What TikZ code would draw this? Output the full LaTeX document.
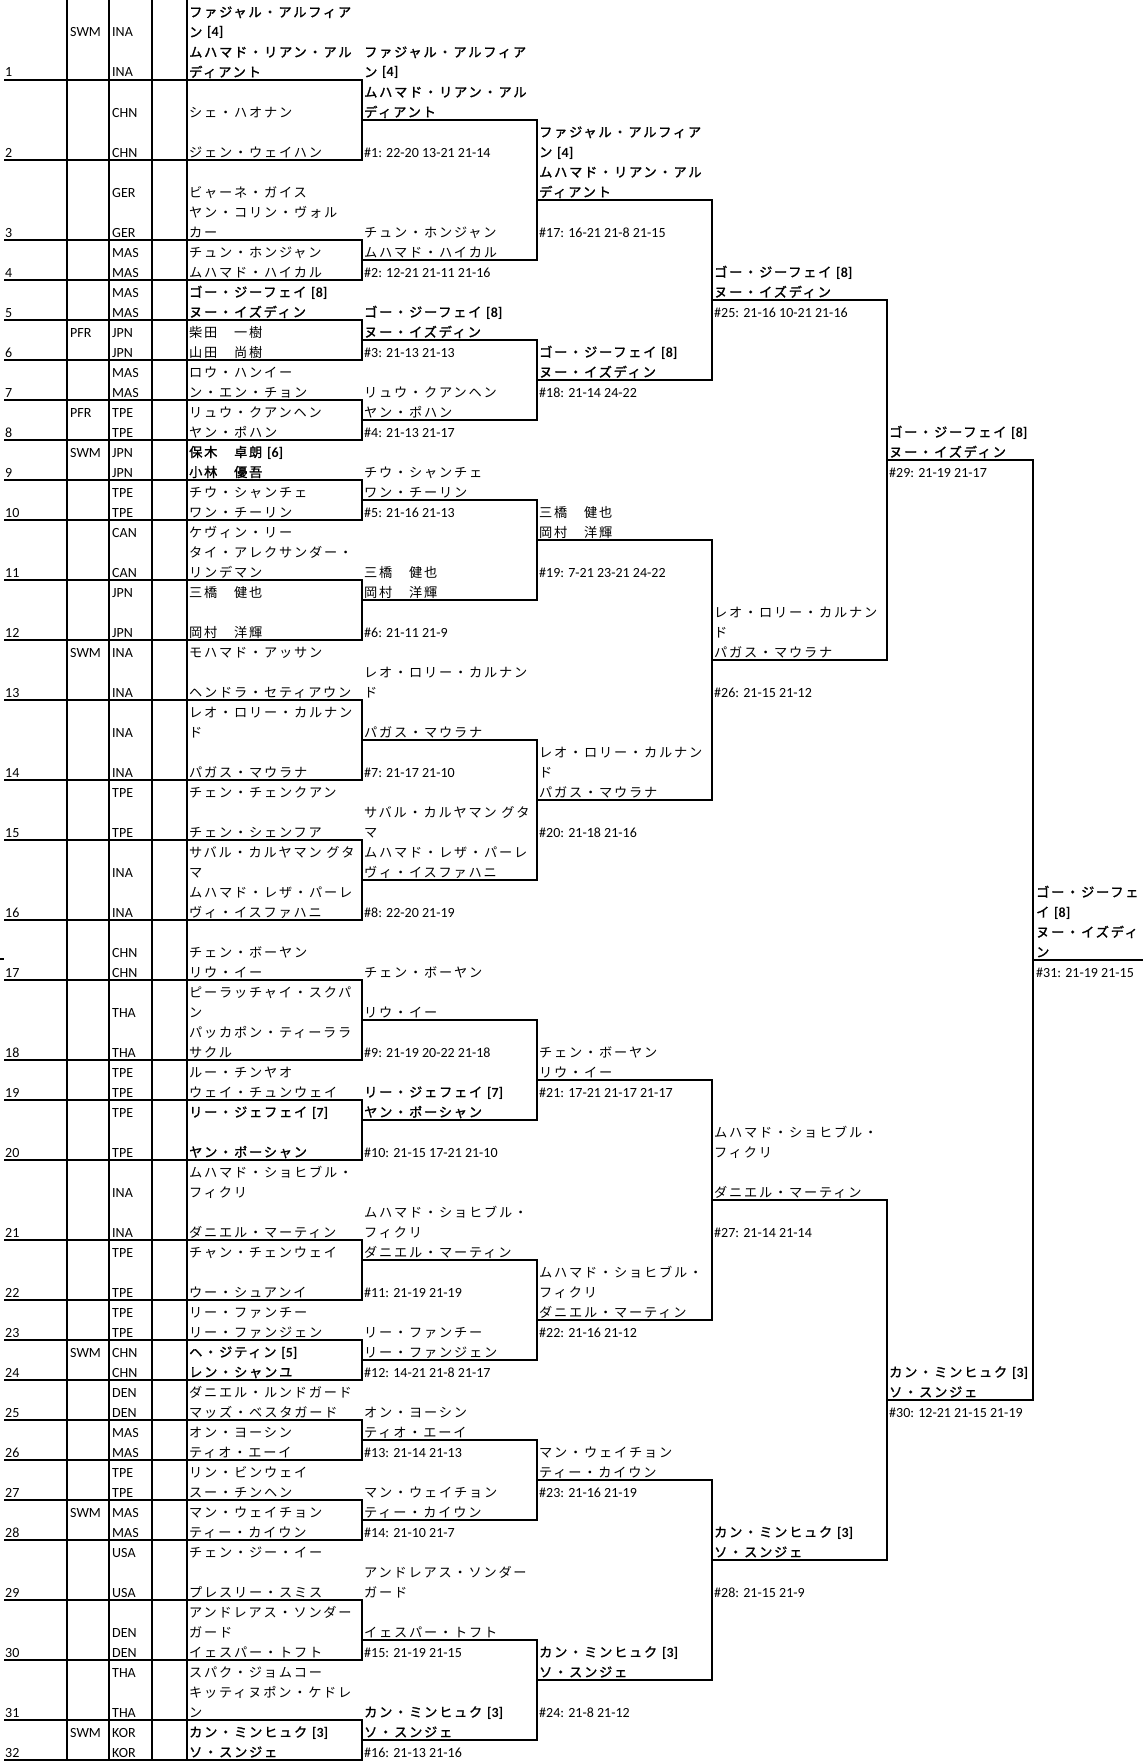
\documentclass[tikz,border=0pt]{standalone}
\usepackage{fontspec}
\setmainfont{Carlito}
\newfontfamily\jp{Noto Sans CJK JP}[LetterSpace=13.5,BoldFont={Noto Sans CJK JP},BoldFeatures={FakeBold=1.5}]
\newcounter{nd}
\newcommand\La[1]{{\rmfamily\fontsize{14}{16}\selectfont #1}}
\newcommand\TX[4][jt]{\stepcounter{nd}\node[#1] (n\arabic{nd}) at (#2,{-20*(#3)-17}) {#4};}
\begin{document}
\begin{tikzpicture}[x=1pt,y=1pt,
  jt/.style={anchor=base west,inner sep=0pt,font=\jp\fontsize{13.2}{15}\selectfont},
  jb/.style={anchor=base west,inner sep=0pt,font=\jp\bfseries\fontsize{13.2}{15}\selectfont},
  lt/.style={anchor=base west,inner sep=0pt,font=\rmfamily\fontsize{14}{16}\selectfont},
  ln/.style={line width=1.1pt,black}]
\fill[white] (0,0) rectangle (1143,-1761);
\useasboundingbox (0,0) rectangle (1143,-1761);
% column lines
\foreach \x in {67,109,152,187} {\draw[ln] (\x,0) -- (\x,-1761);}
\draw[ln] (0,-959) -- (4,-959);
% round 1 boxes
\foreach \a/\b in {80/160,240/280,320/360,400/440,480/520,580/640,700/780,840/920,980/1060,1100/1160,1240/1300,1340/1380,1420/1460,1500/1540,1600/1660,1720/1760}
  {\draw[ln] (4,-\a) -- (362,-\a) -- (362,-\b) -- (4,-\b);}
% round 2 boxes
\foreach \a/\b in {120/260,340/420,500/600,740/880,1020/1120,1260/1360,1440/1520,1640/1740}
  {\draw[ln] (362,-\a) -- (537,-\a) -- (537,-\b) -- (362,-\b);}
% round 3 boxes
\foreach \a/\b in {200/380,540/800,1080/1320,1480/1680}
  {\draw[ln] (537,-\a) -- (712,-\a) -- (712,-\b) -- (537,-\b);}
% round 4 boxes
\foreach \a/\b in {300/660,1200/1560}
  {\draw[ln] (712,-\a) -- (887,-\a) -- (887,-\b) -- (712,-\b);}
% semifinal box
\draw[ln] (887,-460) -- (1033,-460) -- (1033,-1400) -- (887,-1400);
\draw[ln] (1033,-960) -- (1143,-960);
% seed numbers
\foreach \r [count=\i] in {3,7,11,13,15,17,19,21,23,25,28,31,34,38,41,45,48,52,54,57,61,64,66,68,70,72,74,76,79,82,85,87}
  {\TX[lt]{5}{\r}{\i}}
% status
\foreach \r/\c in {1/SWM,22/SWM,32/SWM,67/SWM,75/SWM,86/SWM,16/PFR,20/PFR}
  {\TX[lt]{70}{\r}{\c}}
% countries
\foreach \r/\c in {1/INA,3/INA,5/CHN,7/CHN,9/GER,11/GER,12/MAS,13/MAS,14/MAS,15/MAS,16/JPN,17/JPN,18/MAS,19/MAS,20/TPE,21/TPE,22/JPN,23/JPN,24/TPE,25/TPE,26/CAN,28/CAN,29/JPN,31/JPN,32/INA,34/INA,36/INA,38/INA,39/TPE,41/TPE,43/INA,45/INA,47/CHN,48/CHN,50/THA,52/THA,53/TPE,54/TPE,55/TPE,57/TPE,59/INA,61/INA,62/TPE,64/TPE,65/TPE,66/TPE,67/CHN,68/CHN,69/DEN,70/DEN,71/MAS,72/MAS,73/TPE,74/TPE,75/MAS,76/MAS,77/USA,79/USA,81/DEN,82/DEN,83/THA,85/THA,86/KOR,87/KOR}
  {\TX[lt]{112}{\r}{\c}}
% round 1 names
\TX[jb]{189}{0}{ファジャル・アルフィア}
\TX[jb]{189}{1}{ン \La{[4]}}
\TX[jb]{189}{2}{ムハマド・リアン・アル}
\TX[jb]{189}{3}{ディアント}
\TX{189}{5}{シェ・ハオナン}
\TX{189}{7}{ジェン・ウェイハン}
\TX{189}{9}{ビャーネ・ガイス}
\TX{189}{10}{ヤン・コリン・ヴォル}
\TX{189}{11}{カー}
\TX{189}{12}{チュン・ホンジャン}
\TX{189}{13}{ムハマド・ハイカル}
\TX[jb]{189}{14}{ゴー・ジーフェイ \La{[8]}}
\TX[jb]{189}{15}{ヌー・イズディン}
\TX{189}{16}{柴田　一樹}
\TX{189}{17}{山田　尚樹}
\TX{189}{18}{ロウ・ハンイー}
\TX{189}{19}{ン・エン・チョン}
\TX{189}{20}{リュウ・クアンヘン}
\TX{189}{21}{ヤン・ポハン}
\TX[jb]{189}{22}{保木　卓朗 \La{[6]}}
\TX[jb]{189}{23}{小林　優吾}
\TX{189}{24}{チウ・シャンチェ}
\TX{189}{25}{ワン・チーリン}
\TX{189}{26}{ケヴィン・リー}
\TX{189}{27}{タイ・アレクサンダー・}
\TX{189}{28}{リンデマン}
\TX{189}{29}{三橋　健也}
\TX{189}{31}{岡村　洋輝}
\TX{189}{32}{モハマド・アッサン}
\TX{189}{34}{ヘンドラ・セティアウン}
\TX{189}{35}{レオ・ロリー・カルナン}
\TX{189}{36}{ド}
\TX{189}{38}{パガス・マウラナ}
\TX{189}{39}{チェン・チェンクアン}
\TX{189}{41}{チェン・シェンフア}
\TX{189}{42}{サバル・カルヤマン グタ}
\TX{189}{43}{マ}
\TX{189}{44}{ムハマド・レザ・パーレ}
\TX{189}{45}{ヴィ・イスファハニ}
\TX{189}{47}{チェン・ボーヤン}
\TX{189}{48}{リウ・イー}
\TX{189}{49}{ピーラッチャイ・スクパ}
\TX{189}{50}{ン}
\TX{189}{51}{パッカポン・ティーララ}
\TX{189}{52}{サクル}
\TX{189}{53}{ルー・チンヤオ}
\TX{189}{54}{ウェイ・チュンウェイ}
\TX[jb]{189}{55}{リー・ジェフェイ \La{[7]}}
\TX[jb]{189}{57}{ヤン・ポーシャン}
\TX{189}{58}{ムハマド・ショヒブル・}
\TX{189}{59}{フィクリ}
\TX{189}{61}{ダニエル・マーティン}
\TX{189}{62}{チャン・チェンウェイ}
\TX{189}{64}{ウー・シュアンイ}
\TX{189}{65}{リー・ファンチー}
\TX{189}{66}{リー・ファンジェン}
\TX[jb]{189}{67}{ヘ・ジティン \La{[5]}}
\TX[jb]{189}{68}{レン・シャンユ}
\TX{189}{69}{ダニエル・ルンドガード}
\TX{189}{70}{マッズ・ベスタガード}
\TX{189}{71}{オン・ヨーシン}
\TX{189}{72}{ティオ・エーイ}
\TX{189}{73}{リン・ビンウェイ}
\TX{189}{74}{スー・チンヘン}
\TX{189}{75}{マン・ウェイチョン}
\TX{189}{76}{ティー・カイウン}
\TX{189}{77}{チェン・ジー・イー}
\TX{189}{79}{プレスリー・スミス}
\TX{189}{80}{アンドレアス・ソンダー}
\TX{189}{81}{ガード}
\TX{189}{82}{イェスパー・トフト}
\TX{189}{83}{スパク・ジョムコー}
\TX{189}{84}{キッティヌポン・ケドレ}
\TX{189}{85}{ン}
\TX[jb]{189}{86}{カン・ミンヒュク \La{[3]}}
\TX[jb]{189}{87}{ソ・スンジェ}
% round 2
\TX[jb]{364}{2}{ファジャル・アルフィア}
\TX[jb]{364}{3}{ン \La{[4]}}
\TX[jb]{364}{4}{ムハマド・リアン・アル}
\TX[jb]{364}{5}{ディアント}
\TX[lt]{364}{7}{\#1: 22-20 13-21 21-14}
\TX{364}{11}{チュン・ホンジャン}
\TX{364}{12}{ムハマド・ハイカル}
\TX[lt]{364}{13}{\#2: 12-21 21-11 21-16}
\TX[jb]{364}{15}{ゴー・ジーフェイ \La{[8]}}
\TX[jb]{364}{16}{ヌー・イズディン}
\TX[lt]{364}{17}{\#3: 21-13 21-13}
\TX{364}{19}{リュウ・クアンヘン}
\TX{364}{20}{ヤン・ポハン}
\TX[lt]{364}{21}{\#4: 21-13 21-17}
\TX{364}{23}{チウ・シャンチェ}
\TX{364}{24}{ワン・チーリン}
\TX[lt]{364}{25}{\#5: 21-16 21-13}
\TX{364}{28}{三橋　健也}
\TX{364}{29}{岡村　洋輝}
\TX[lt]{364}{31}{\#6: 21-11 21-9}
\TX{364}{33}{レオ・ロリー・カルナン}
\TX{364}{34}{ド}
\TX{364}{36}{パガス・マウラナ}
\TX[lt]{364}{38}{\#7: 21-17 21-10}
\TX{364}{40}{サバル・カルヤマン グタ}
\TX{364}{41}{マ}
\TX{364}{42}{ムハマド・レザ・パーレ}
\TX{364}{43}{ヴィ・イスファハニ}
\TX[lt]{364}{45}{\#8: 22-20 21-19}
\TX{364}{48}{チェン・ボーヤン}
\TX{364}{50}{リウ・イー}
\TX[lt]{364}{52}{\#9: 21-19 20-22 21-18}
\TX[jb]{364}{54}{リー・ジェフェイ \La{[7]}}
\TX[jb]{364}{55}{ヤン・ポーシャン}
\TX[lt]{364}{57}{\#10: 21-15 17-21 21-10}
\TX{364}{60}{ムハマド・ショヒブル・}
\TX{364}{61}{フィクリ}
\TX{364}{62}{ダニエル・マーティン}
\TX[lt]{364}{64}{\#11: 21-19 21-19}
\TX{364}{66}{リー・ファンチー}
\TX{364}{67}{リー・ファンジェン}
\TX[lt]{364}{68}{\#12: 14-21 21-8 21-17}
\TX{364}{70}{オン・ヨーシン}
\TX{364}{71}{ティオ・エーイ}
\TX[lt]{364}{72}{\#13: 21-14 21-13}
\TX{364}{74}{マン・ウェイチョン}
\TX{364}{75}{ティー・カイウン}
\TX[lt]{364}{76}{\#14: 21-10 21-7}
\TX{364}{78}{アンドレアス・ソンダー}
\TX{364}{79}{ガード}
\TX{364}{81}{イェスパー・トフト}
\TX[lt]{364}{82}{\#15: 21-19 21-15}
\TX[jb]{364}{85}{カン・ミンヒュク \La{[3]}}
\TX[jb]{364}{86}{ソ・スンジェ}
\TX[lt]{364}{87}{\#16: 21-13 21-16}
% round 3
\TX[jb]{539}{6}{ファジャル・アルフィア}
\TX[jb]{539}{7}{ン \La{[4]}}
\TX[jb]{539}{8}{ムハマド・リアン・アル}
\TX[jb]{539}{9}{ディアント}
\TX[lt]{539}{11}{\#17: 16-21 21-8 21-15}
\TX[jb]{539}{17}{ゴー・ジーフェイ \La{[8]}}
\TX[jb]{539}{18}{ヌー・イズディン}
\TX[lt]{539}{19}{\#18: 21-14 24-22}
\TX{539}{25}{三橋　健也}
\TX{539}{26}{岡村　洋輝}
\TX[lt]{539}{28}{\#19: 7-21 23-21 24-22}
\TX{539}{37}{レオ・ロリー・カルナン}
\TX{539}{38}{ド}
\TX{539}{39}{パガス・マウラナ}
\TX[lt]{539}{41}{\#20: 21-18 21-16}
\TX{539}{52}{チェン・ボーヤン}
\TX{539}{53}{リウ・イー}
\TX[lt]{539}{54}{\#21: 17-21 21-17 21-17}
\TX{539}{63}{ムハマド・ショヒブル・}
\TX{539}{64}{フィクリ}
\TX{539}{65}{ダニエル・マーティン}
\TX[lt]{539}{66}{\#22: 21-16 21-12}
\TX{539}{72}{マン・ウェイチョン}
\TX{539}{73}{ティー・カイウン}
\TX[lt]{539}{74}{\#23: 21-16 21-19}
\TX[jb]{539}{82}{カン・ミンヒュク \La{[3]}}
\TX[jb]{539}{83}{ソ・スンジェ}
\TX[lt]{539}{85}{\#24: 21-8 21-12}
% round 4
\TX[jb]{714}{13}{ゴー・ジーフェイ \La{[8]}}
\TX[jb]{714}{14}{ヌー・イズディン}
\TX[lt]{714}{15}{\#25: 21-16 10-21 21-16}
\TX{714}{30}{レオ・ロリー・カルナン}
\TX{714}{31}{ド}
\TX{714}{32}{パガス・マウラナ}
\TX[lt]{714}{34}{\#26: 21-15 21-12}
\TX{714}{56}{ムハマド・ショヒブル・}
\TX{714}{57}{フィクリ}
\TX{714}{59}{ダニエル・マーティン}
\TX[lt]{714}{61}{\#27: 21-14 21-14}
\TX[jb]{714}{76}{カン・ミンヒュク \La{[3]}}
\TX[jb]{714}{77}{ソ・スンジェ}
\TX[lt]{714}{79}{\#28: 21-15 21-9}
% semifinals
\TX[jb]{889}{21}{ゴー・ジーフェイ \La{[8]}}
\TX[jb]{889}{22}{ヌー・イズディン}
\TX[lt]{889}{23}{\#29: 21-19 21-17}
\TX[jb]{889}{68}{カン・ミンヒュク \La{[3]}}
\TX[jb]{889}{69}{ソ・スンジェ}
\TX[lt]{889}{70}{\#30: 12-21 21-15 21-19}
% final
\TX[jb]{1036}{44}{ゴー・ジーフェ}
\TX[jb]{1036}{45}{イ \La{[8]}}
\TX[jb]{1036}{46}{ヌー・イズディ}
\TX[jb]{1036}{47}{ン}
\TX[lt]{1036}{48}{\#31: 21-19 21-15}
\end{tikzpicture}
\end{document}
